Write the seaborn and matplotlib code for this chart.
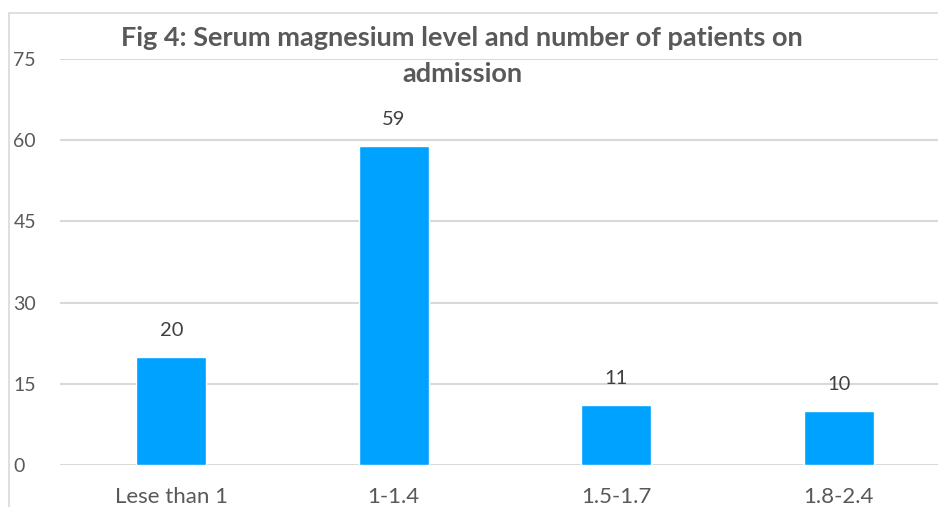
import matplotlib
matplotlib.use("Agg")
import matplotlib.pyplot as plt
import seaborn as sns
import pandas as pd
from matplotlib.lines import Line2D

categories = ["Lese than 1", "1-1.4", "1.5-1.7", "1.8-2.4"]
patients = [20, 59, 11, 10]
yticks = [0, 15, 30, 45, 60, 75]

sns.set_theme(style="white")
plt.rcParams['font.family'] = ['Lato', 'DejaVu Sans']

df = pd.DataFrame({"level": categories, "patients": patients})

fig = plt.figure(figsize=(9.38, 5.07), dpi=100)
W, H = 938, 507
ax = fig.add_axes([60 / W, 42 / H, (950 - 60) / W, (465 - 59) / H])

sns.barplot(data=df, x="level", y="patients", color="#00A2FF", saturation=1,
            width=0.315, ax=ax, zorder=3)

ax.set_ylim(0, 75)
ax.set_yticks(yticks)
ax.set_xlim(-0.5, 3.5)
ax.yaxis.grid(True, color="#D9D9D9", linewidth=1.5, zorder=0)
for s in ax.spines.values():
    s.set_visible(False)
ax.set_xlabel("")
ax.set_ylabel("")
ax.tick_params(axis="y", length=0, pad=33.5, labelsize=14, labelcolor="#595959")
ax.tick_params(axis="x", length=0, pad=16, labelsize=16, labelcolor="#595959")
for lab in ax.get_yticklabels():
    lab.set_horizontalalignment("left")

for c in ax.containers:
    ax.bar_label(c, labels=[str(v) for v in patients], padding=13,
                 fontsize=14.5, color="#404040")

fig.text(462 / W, 1 - 46 / H, "Fig 4: Serum magnesium level and number of patients on",
         ha="center", va="baseline", fontsize=19.5, fontweight="bold", color="#595959")
fig.text(462 / W, 1 - 82 / H, "admission",
         ha="center", va="baseline", fontsize=19.5, fontweight="bold", color="#595959")

# chart frame (partially cropped)
fig.add_artist(Line2D([8.5 / W, 1], [1 - 13 / H, 1 - 13 / H], color="#D9D9D9", lw=1.2,
                      transform=fig.transFigure))
fig.add_artist(Line2D([8.5 / W, 8.5 / W], [0, 1 - 13 / H], color="#D9D9D9", lw=1.2,
                      transform=fig.transFigure))

fig.savefig("out.png", dpi=100, facecolor="white")
